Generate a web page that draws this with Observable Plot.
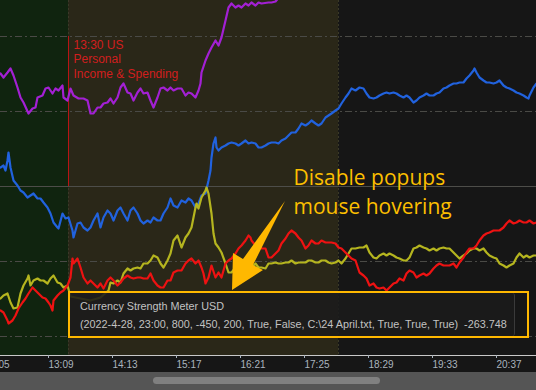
<!DOCTYPE html>
<html><head><meta charset="utf-8">
<script src="https://cdn.jsdelivr.net/npm/d3@7"></script>
<script src="https://cdn.jsdelivr.net/npm/@observablehq/plot@0.6"></script>
<style>
html,body{margin:0;padding:0;background:#161616;}
#wrap{position:relative;width:536px;height:390px;overflow:hidden;background:#161616;}
#popup{position:absolute;left:68px;top:291px;width:461px;height:47px;box-sizing:border-box;border:2.5px solid #ffb800;}
#popup .bg{position:absolute;left:0;top:0;bottom:0;right:12px;background:rgba(27,27,27,0.88);border-right:1px solid #3a3a3a;border-radius:0 3px 3px 0;}
#popup .ln{position:absolute;left:10px;font-family:"Liberation Sans",Arial,sans-serif;font-size:10.8px;line-height:12px;color:#c2c2c2;white-space:pre;}
#scroll{position:absolute;left:0;top:372px;width:536px;height:18px;background:#555555;}
#thumb{position:absolute;left:153px;top:5px;width:227px;height:7px;border-radius:4px;background:#808080;}
</style></head><body>
<div id="wrap"><div id="chart"></div>
<div id="popup"><div class="bg"></div><div class="ln" id="l1" style="top:6.5px"></div><div class="ln" id="l2" style="top:25px"></div></div>
<div id="scroll"><div id="thumb"></div></div></div>
<script>
// time in minutes since midnight, strength in arbitrary units
const xTicks = [725, 789, 853, 917, 981, 1045, 1109, 1173, 1237];
const gridLevels = [150, 75, -75, -150];
const sessionNames = ["pre", "event", "late"];
const sessionStart = [700, 810, 1080];
const sessionEnd = [810, 1080, 1300];
const eventTime = 810;
const eventLabel = "13:30 US\nPersonal\nIncome & Spending";
const noteText = "Disable popups\nmouse hovering";
const popupTitle = "Currency Strength Meter USD";
const popupBody = "(2022-4-28, 23:00, 800, -450, 200, True, False, C:\\24 April.txt, True, True, True)  -263.748";

const purpleT = [742,745,749,752,755,759,762,765,770,774, 777,779,784,787,790,794,797,800,804,805,
 809,812,815,820,825,829,832,835,839,842, 845,849,852,855,859,862,865,869,872,875,
 879,882,885,889,892,895,899,902,905,909, 912,915,919,923,927,930,933,937,940,942,
 943,947,950,953,957,960,963,967,970,973, 977,980,983,987,990,993,997,1000,1003,1010, 1013,1017,1022];
const purpleV = [113,109,114,118,111,99,89,84,73,78, 79,89,91,98,99,93,98,96,101,89,
 86,98,91,88,88,86,73,73,79,79, 83,84,88,83,89,99,103,94,93,86,
 94,98,93,94,86,79,89,98,99,96, 99,96,98,98,91,94,93,89,96,103,
 114,126,133,139,146,141,149,166,179,183, 179,181,179,183,181,184,181,184,183,184, 184,185,191];

const blueT = [742,745,747,749,750,752,755,759,762,765, 769,772,775,779,782,785,789,792,795,799,
 800,804,807,810,814,815,819,822,825,829, 832,835,839,842,845,849,852,855,859,862,
 865,869,872,875,879,882,885,889,892,895, 899,902,905,909,912,915,919,923,927,930,
 933,937,940,943,947,950,952,953,955,957, 958,960,963,967,970,973,977,980,983,987,
 990,993,997,1000,1003,1007,1010,1013,1017,1020, 1023,1027,1030,1033,1037,1040,1043,1047,1050,1053,
 1057,1060,1063,1067,1070,1073,1077,1080,1083,1087, 1090,1093,1097,1101,1105,1108,1111,1115,1118,1121,
 1125,1128,1131,1135,1138,1141,1145,1148,1151,1155, 1158,1161,1165,1168,1171,1175,1178,1181,1185,1188,
 1191,1195,1198,1201,1205,1208,1211,1215,1216,1218, 1221,1225,1228,1231,1235,1238,1241,1245,1248,1251,
 1255,1258,1261,1265,1268,1270,1271,1275,1278];
const blueV = [19,21,16,26,34,19,6,1,-4,-6, -11,-9,-7,-12,-12,-16,-21,-27,-36,-41,
 -42,-27,-32,-31,-44,-51,-37,-36,-41,-44, -41,-34,-27,-41,-31,-24,-27,-34,-24,-21,
 -27,-34,-24,-21,-27,-34,-37,-34,-36,-31, -34,-34,-27,-21,-12,-19,-21,-14,-16,-12,
 -14,-21,-17,-9,-7,6,16,29,43,49, 39,36,39,41,43,44,43,41,43,46,
 43,44,43,39,39,41,43,44,44,43, 46,48,51,54,54,58,63,61,63,66,
 63,61,63,69,71,73,76,78,83,89, 93,98,96,99,98,93,89,88,89,91,
 93,94,93,94,93,91,89,91,89,84, 86,89,91,93,91,91,93,94,98,99,
 101,103,103,104,104,108,111,116,118,114, 109,106,104,104,103,104,106,101,99,98,
 96,94,93,91,89,88,91,99,103];

const yellowT = [742,745,749,752,755,759,762,765,769,770, 772,775,779,782,785,789,792,795,799,802,
 805,809,812,822,832,842,850,852,855,859, 862,865,869,872,875,879,882,885,889,892,
 895,899,902,905,909,912,915,919,923,927, 930,933,937,938,940,943,947,948,950,953,
 955,957,960,963,967,970,973,977,980,983, 987,990,993,997,1000,1003,1007,1010,1013,1017,
 1020,1023,1027,1030,1033,1037,1040,1043,1047,1050, 1053,1057,1060,1063,1067,1070,1073,1077,1080,1083,
 1087,1090,1093,1097,1101,1105,1108,1111,1115,1118, 1121,1125,1128,1131,1135,1138,1141,1145,1148,1151,
 1155,1158,1161,1165,1168,1171,1175,1178,1181,1185, 1188,1191,1195,1198,1201,1205,1208,1211,1215,1218,
 1221,1225,1228,1231,1235,1238,1241,1245,1248,1251, 1255,1258,1261,1265,1268,1271,1275,1278];
const yellowV = [-112,-109,-107,-116,-122,-121,-107,-99,-92,-89, -99,-94,-92,-94,-94,-97,-92,-89,-96,-97,
 -101,-99,-110,-112,-114,-111,-104,-96,-97,-94, -96,-87,-82,-84,-82,-81,-82,-77,-77,-74,
 -69,-71,-77,-81,-74,-67,-54,-49,-61,-51, -47,-41,-21,-17,-22,-11,-4,-1,-7,-27,
 -47,-57,-61,-66,-77,-86,-86,-81,-74,-77, -81,-79,-81,-77,-81,-81,-82,-77,-77,-76,
 -77,-77,-76,-76,-74,-77,-76,-76,-76,-74, -74,-76,-76,-74,-74,-76,-77,-76,-74,-77,
 -72,-67,-62,-62,-61,-61,-59,-66,-71,-72, -69,-67,-69,-67,-69,-71,-72,-74,-74,-71,
 -62,-61,-59,-61,-62,-64,-62,-64,-62,-61, -62,-62,-66,-69,-72,-69,-67,-64,-62,-62,
 -64,-62,-66,-69,-71,-72,-77,-79,-81,-79, -77,-71,-67,-71,-69,-71,-69,-69];

const redT = [742,745,749,750,754,757,760,764,767,770, 774,777,780,784,787,790,792,794,795,799,
 802,805,809,812,814,815,819,822,825,829, 832,835,839,842,845,849,852,855,859,862,
 865,869,872,875,879,882,885,889,892,895, 899,902,905,909,912,915,919,923,927,930,
 933,937,940,943,945,947,950,953,957,960, 963,967,970,973,977,980,983,987,990,992,
 993,997,1000,1003,1007,1010,1013,1017,1020,1023, 1027,1030,1033,1037,1040,1043,1047,1050,1053,1057,
 1060,1063,1067,1070,1073,1077,1080,1083,1087,1090, 1093,1097,1101,1105,1108,1111,1115,1118,1121,1125,
 1128,1131,1135,1138,1141,1145,1148,1151,1155,1158, 1161,1165,1168,1171,1175,1178,1181,1185,1188,1191,
 1195,1198,1201,1205,1208,1211,1215,1218,1221,1225, 1228,1231,1235,1238,1241,1245,1248,1251,1255,1258,
 1261,1265,1268,1271,1275,1278];
const redV = [-124,-126,-134,-137,-134,-129,-122,-116,-112,-107, -101,-104,-107,-111,-112,-116,-119,-124,-114,-109,
 -106,-104,-99,-91,-72,-77,-72,-81,-91,-97, -94,-97,-101,-97,-102,-94,-91,-94,-99,-96,
 -92,-89,-91,-92,-91,-91,-92,-92,-87,-94, -99,-101,-101,-94,-94,-86,-84,-84,-77,-74,
 -72,-77,-74,-81,-87,-97,-91,-79,-91,-86, -91,-77,-74,-72,-67,-62,-59,-54,-49,-51,
 -54,-59,-57,-62,-62,-71,-71,-67,-64,-57, -52,-47,-44,-47,-51,-54,-62,-59,-54,-57,
 -57,-54,-56,-56,-56,-57,-61,-62,-66,-69, -72,-74,-86,-89,-92,-99,-97,-101,-102,-101,
 -104,-101,-97,-96,-92,-94,-87,-84,-86,-91, -89,-87,-89,-87,-82,-79,-77,-79,-79,-79,
 -77,-81,-76,-71,-66,-62,-62,-59,-54,-49, -47,-46,-44,-44,-44,-41,-37,-34,-37,-36,
 -34,-36,-36,-34,-37,-36];

// annotation arrow outline (time, strength)
const arrowT = [1027, 995, 1005, 974, 975, 985];
const arrowV = [-15, -79, -84, -104, -67, -73];
const noteAt = {t: 1035, v: 22};

// ---- styles ----
const sessionColors = ["#10240f", "#2a2718", "#161616"];
const seriesColors = {purple: "#a320d4", blue: "#2162de", yellow: "#b5b51f", red: "#ee1212"};
const gold = "#ffb800";

const zip = (T, V) => T.map((t, i) => ({t, v: V[i]}));
const series = [
  ["purple", zip(purpleT, purpleV)],
  ["blue", zip(blueT, blueV)],
  ["yellow", zip(yellowT, yellowV)],
  ["red", zip(redT, redV)]
];
const sessions = sessionNames.map((name, i) => ({name, start: sessionStart[i], end: sessionEnd[i]}));
const arrowPts = zip(arrowT, arrowV);
const fmt = m => String(Math.floor(m / 60)).padStart(2, "0") + ":" + String(m % 60).padStart(2, "0");

const chart = Plot.plot({
  width: 536, height: 372,
  marginTop: 0, marginRight: 0, marginBottom: 17, marginLeft: 0,
  style: {background: "#161616", fontFamily: "'Liberation Sans', Arial, sans-serif", fontSize: "10px", color: "#aab4be"},
  x: {domain: [742, 1278], axis: null},
  y: {domain: [-169, 186], axis: null},
  color: {domain: sessionNames, range: sessionColors},
  marks: [
    Plot.rect(sessions, {x1: "start", x2: "end", fill: "name"}),
    Plot.ruleX([sessionStart[1], sessionStart[2]], {stroke: "#3a3928", strokeDasharray: "2,2"}),
    Plot.ruleY(gridLevels, {stroke: "#4a4a46", strokeDasharray: "7,3,2,3"}),
    Plot.ruleY([0], {stroke: "#4d4d49"}),
    Plot.ruleX([eventTime], {y1: 0, y2: 150, stroke: "#b81414"}),
    Plot.text([eventLabel], {x: eventTime, y: 150, dx: 5, dy: 2, text: d => d, textAnchor: "start", lineAnchor: "top", fill: "#d21e1e", fontSize: 12, lineHeight: 1.2}),
    ...series.map(([name, data]) => Plot.line(data, {x: "t", y: "v", stroke: seriesColors[name], strokeWidth: 2.2, clip: true})),
    (index, scales) => {
      const path = d3.line().x(d => scales.x(d.t)).y(d => scales.y(d.v));
      return d3.create("svg:path").attr("d", path(arrowPts) + "Z").attr("fill", gold).node();
    },
    Plot.text([noteText], {x: noteAt.t, y: noteAt.v, text: d => d, textAnchor: "start", lineAnchor: "top", fontSize: 21, fontFamily: "'Open Sans', sans-serif", fill: "#fcbf00", lineHeight: 1.38}),
    Plot.ruleY([-169], {stroke: "#c8c8c8"}),
    Plot.axisX(xTicks, {anchor: "bottom", tickSize: 3, tickPadding: 2, textAnchor: "start", dx: 1, tickFormat: fmt, color: "#aab4be", fontSize: 10})
  ]
});
document.getElementById("chart").appendChild(chart);
document.getElementById("l1").textContent = popupTitle;
document.getElementById("l2").textContent = popupBody;
</script>
</body></html>
